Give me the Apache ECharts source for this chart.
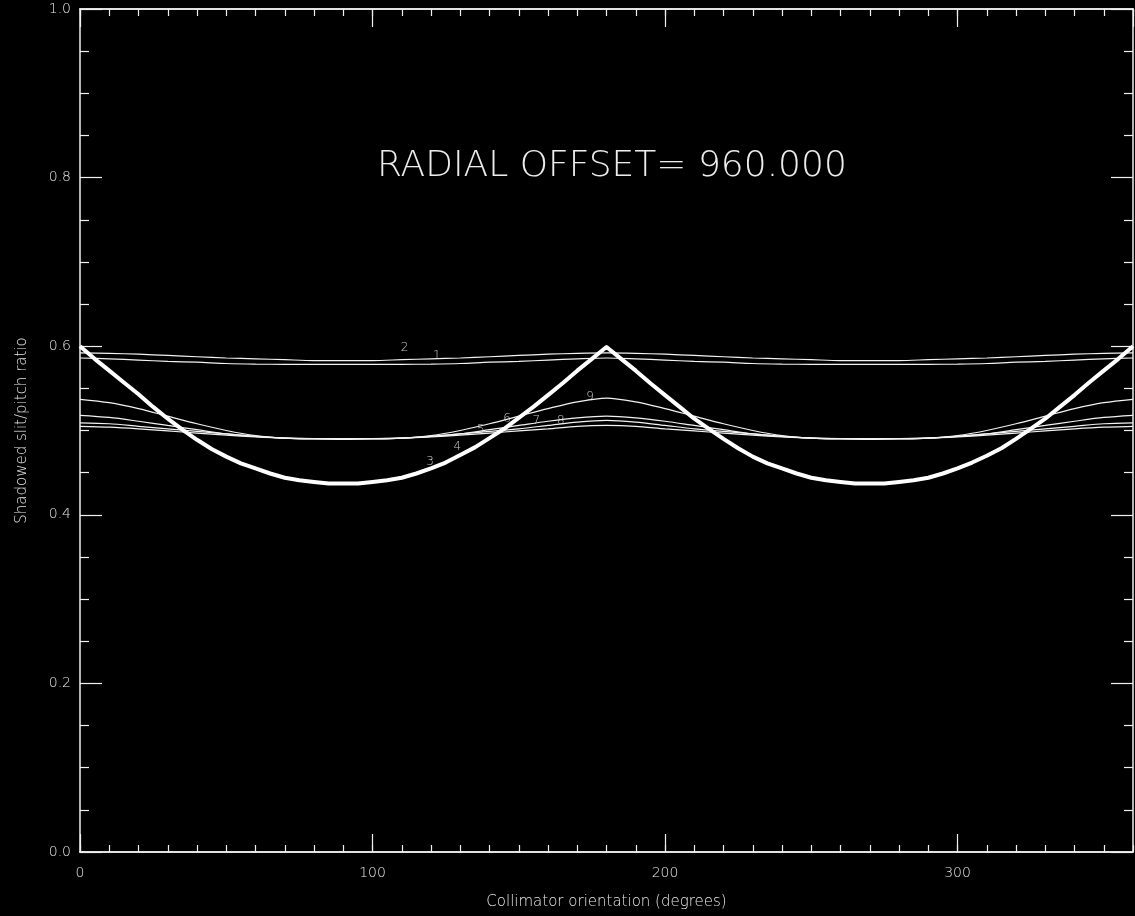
<!DOCTYPE html>
<html>
<head>
<meta charset="utf-8">
<script src="https://cdn.jsdelivr.net/npm/echarts@6/dist/echarts.min.js"></script>
<style>
html,body{margin:0;padding:0;background:#000;}
#chart{width:1135px;height:916px;}
</style>
</head>
<body>
<div id="chart"></div>
<script>
// Collimator orientation (degrees), sampled every 10 degrees (thin curves)
const angles = [0,10,20,30,40,50,60,70,80,90,100,110,120,130,140,150,160,170,180,
  190,200,210,220,230,240,250,260,270,280,290,300,310,320,330,340,350,360];
// Finer sampling (every 5 degrees) for the thick cusped curve
const angles5 = [0,5,10,15,20,25,30,35,40,45,50,55,60,65,70,75,80,85,90,95,100,105,110,115,120,125,130,135,140,145,150,155,160,165,170,175,180,
  185,190,195,200,205,210,215,220,225,230,235,240,245,250,255,260,265,270,275,280,285,290,295,300,305,310,315,320,325,330,335,340,345,350,355,360];

// Curve 1 (upper thin pair, lower one)
const curve1 = [0.586,0.585,0.5835,0.582,0.581,0.5795,0.5788,0.5785,0.5785,0.5785,0.5785,0.5785,0.5788,0.5795,0.581,0.582,0.5835,0.585,0.586,
  0.585,0.5835,0.582,0.581,0.5795,0.5788,0.5785,0.5785,0.5785,0.5785,0.5785,0.5788,0.5795,0.581,0.582,0.5835,0.585,0.586];
// Curve 2 (upper thin pair, upper one)
const curve2 = [0.592,0.5915,0.5905,0.589,0.5875,0.586,0.585,0.584,0.583,0.583,0.583,0.584,0.585,0.586,0.5875,0.589,0.5905,0.5915,0.592,
  0.5915,0.5905,0.589,0.5875,0.586,0.585,0.584,0.583,0.583,0.583,0.584,0.585,0.586,0.5875,0.589,0.5905,0.5915,0.592];
// Curves 3/4 (thick curve), every 5 degrees
const curve34 = [0.600,0.585,0.571,0.557,0.543,0.528,0.514,0.501,0.489,0.478,0.469,0.461,0.455,0.449,0.444,0.441,0.439,0.437,0.437,
  0.437,0.439,0.441,0.444,0.449,0.455,0.462,0.471,0.480,0.491,0.502,0.515,0.528,0.542,0.556,0.571,0.585,0.599,
  0.585,0.571,0.556,0.542,0.528,0.514,0.502,0.490,0.479,0.469,0.461,0.455,0.449,0.444,0.441,0.439,0.437,0.437,
  0.437,0.439,0.441,0.444,0.449,0.455,0.462,0.470,0.479,0.490,0.502,0.514,0.528,0.542,0.557,0.571,0.585,0.600];
// Lower cluster
const curve9 = [0.537,0.533,0.526,0.517,0.508,0.500,0.494,0.491,0.490,0.490,0.490,0.491,0.494,0.500,0.508,0.517,0.526,0.534,0.5385,
  0.534,0.526,0.517,0.508,0.500,0.494,0.491,0.490,0.490,0.490,0.491,0.494,0.500,0.508,0.517,0.526,0.533,0.537];
const curve7 = [0.518,0.5155,0.511,0.506,0.501,0.496,0.493,0.491,0.490,0.4895,0.490,0.491,0.493,0.496,0.501,0.506,0.511,0.515,0.517,
  0.515,0.511,0.506,0.501,0.496,0.493,0.491,0.490,0.4895,0.490,0.491,0.493,0.496,0.501,0.506,0.511,0.5155,0.518];
const curve8 = [0.509,0.508,0.505,0.502,0.499,0.496,0.493,0.491,0.4905,0.4905,0.4905,0.491,0.493,0.496,0.499,0.502,0.506,0.510,0.512,
  0.510,0.506,0.502,0.499,0.496,0.493,0.491,0.4905,0.4905,0.4905,0.491,0.493,0.496,0.499,0.502,0.505,0.508,0.509];
const curve5 = [0.505,0.504,0.502,0.4995,0.497,0.4945,0.4925,0.491,0.4905,0.4905,0.4905,0.491,0.4925,0.4945,0.497,0.4995,0.502,0.505,0.506,
  0.505,0.502,0.4995,0.497,0.4945,0.4925,0.491,0.4905,0.4905,0.4905,0.491,0.4925,0.4945,0.497,0.4995,0.502,0.504,0.505];

// Curve labels (degree, value, text)
const labelDeg  = [111, 122, 119.7, 129, 137, 146, 156, 164.4, 174.4];
const labelVal  = [0.598, 0.588, 0.463, 0.481, 0.501, 0.514, 0.512, 0.511, 0.540];
const labelText = ['2', '1', '3', '4', '5', '6', '7', '8', '9'];

const xTickLabels = ['0', '100', '200', '300'];
const yTickLabels = ['0.0', '0.2', '0.4', '0.6', '0.8', '1.0'];

const titleText = 'RADIAL OFFSET= 960.000';
const xName = 'Collimator orientation (degrees)';
const yName = 'Shadowed slit/pitch ratio';

const FONT = 'DejaVu Sans';
const axisColor = '#f0f0f0';
const textColor = '#e6e6e6';

function pairs(xs, ys) { return xs.map((a, i) => [a, ys[i]]); }

function xAx(pos, interval, len, withLabels) {
  return {
    type: 'value', min: 0, max: 360, interval: interval, position: pos,
    axisLine: { show: true, onZero: false, lineStyle: { color: axisColor, width: 1.5 } },
    axisTick: { show: true, inside: true, length: len, lineStyle: { color: axisColor, width: 1.2 } },
    splitLine: { show: false },
    axisLabel: withLabels ? {
      show: true, margin: 14, color: textColor, fontFamily: FONT, fontWeight: 200, fontSize: 14,
      showMaxLabel: false,
      formatter: function (v) { const i = xTickLabels.indexOf(String(v)); return i >= 0 ? xTickLabels[i] : ''; }
    } : { show: false },
    name: withLabels ? xName : '',
    nameLocation: 'middle', nameGap: 43,
    nameTextStyle: { color: textColor, fontFamily: FONT, fontWeight: 200, fontSize: 15 }
  };
}

function yAx(pos, withLabels) {
  return {
    type: 'value', min: 0, max: 1, interval: 0.2, position: pos,
    axisLine: { show: true, onZero: false, lineStyle: { color: axisColor, width: 1.5 } },
    axisTick: { show: true, inside: true, length: 22, lineStyle: { color: axisColor, width: 1.2 } },
    minorTick: { show: true, splitNumber: 4, length: 9, lineStyle: { color: axisColor, width: 1.2 } },
    splitLine: { show: false },
    minorSplitLine: { show: false },
    axisLabel: withLabels ? {
      show: true, margin: 9, color: textColor, fontFamily: FONT, fontWeight: 200, fontSize: 14,
      formatter: function (v) { return yTickLabels[Math.round(v / 0.2)] || ''; }
    } : { show: false },
    name: withLabels ? yName : '',
    nameLocation: 'middle', nameGap: 50, nameRotate: 90,
    nameTextStyle: { color: textColor, fontFamily: FONT, fontWeight: 200, fontSize: 15 }
  };
}

function thin(name, ys) {
  return {
    name: name, type: 'line', data: pairs(angles, ys), showSymbol: false, smooth: 0.3,
    lineStyle: { color: '#f2f2f2', width: 1.2 }, z: 3, silent: true
  };
}

const chart = echarts.init(document.getElementById('chart'), null, { renderer: 'canvas' });
chart.setOption({
  animation: false,
  backgroundColor: '#000',
  grid: { left: 80, right: 2, top: 9, bottom: 64, containLabel: false },
  xAxis: [
    xAx('bottom', 100, 18, true),
    xAx('bottom', 10, 7, false),
    xAx('top', 100, 18, false),
    xAx('top', 10, 7, false)
  ],
  yAxis: [yAx('left', true), yAx('right', false)],
  graphic: [{
    type: 'text', x: 377, y: 167,
    style: { text: titleText, fill: '#ececec', font: '200 36px "DejaVu Sans"', verticalAlign: 'middle', align: 'left' }
  }],
  series: [
    thin('1', curve1),
    thin('2', curve2),
    thin('5', curve5),
    thin('7', curve7),
    thin('8', curve8),
    thin('9', curve9),
    {
      name: '3/4', type: 'line', data: pairs(angles5, curve34), showSymbol: false, smooth: false,
      lineStyle: { color: '#ffffff', width: 4, join: 'round' }, z: 4, silent: true
    },
    {
      name: 'labels', type: 'scatter', symbolSize: 1, itemStyle: { color: 'transparent' }, z: 6,
      data: labelDeg.map((d, i) => ({ value: [d, labelVal[i]], name: labelText[i] })),
      label: { show: true, position: 'inside', formatter: '{b}', color: '#f0f0f0', fontFamily: FONT, fontWeight: 200, fontSize: 12 }
    }
  ]
});
</script>
</body>
</html>
